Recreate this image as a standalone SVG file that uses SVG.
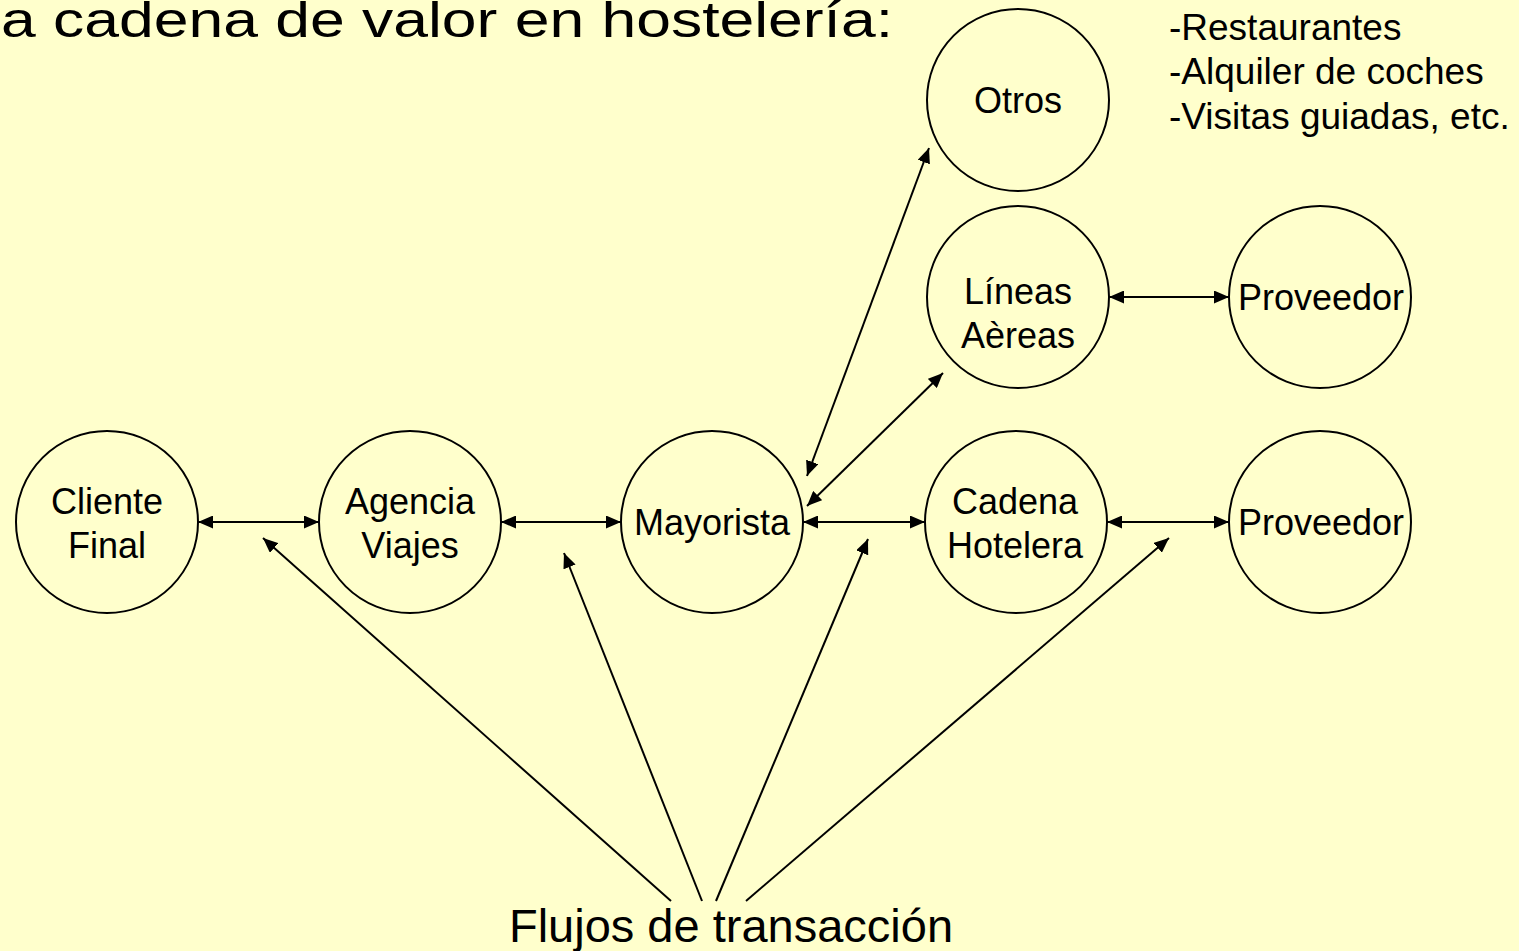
<svg xmlns="http://www.w3.org/2000/svg" width="1519" height="951" viewBox="0 0 1519 951">
<defs>
<style>
.n circle{fill:#FFFFCC;stroke:#000;stroke-width:2}
text{font-family:"Liberation Sans",Arial,sans-serif;fill:#000}
.n text{font-size:36px;text-anchor:middle}
.c line{stroke:#000;stroke-width:2}
.bi{marker-start:url(#ah);marker-end:url(#ah)}
.one{marker-end:url(#ah)}
</style>
<marker id="ah" markerUnits="userSpaceOnUse" markerWidth="16" markerHeight="13" refX="15" refY="6.5" orient="auto-start-reverse" viewBox="0 0 16 13">
<path d="M0,0 L15,6.5 L0,13 z" fill="#000"/>
</marker>
</defs>
<rect width="1519" height="951" fill="#FFFFCC"/>
<text x="1" y="37" font-size="50" textLength="892" lengthAdjust="spacingAndGlyphs">a cadena de valor en hostelería:</text>
<g id="lista" font-size="37">
<text x="1169" y="40">-Restaurantes</text>
<text x="1169" y="84">-Alquiler de coches</text>
<text x="1169" y="129">-Visitas guiadas, etc.</text>
</g>
<g class="c" id="connectors">
<line class="bi" x1="198" y1="522" x2="319" y2="522"/>
<line class="bi" x1="501" y1="522" x2="621" y2="522"/>
<line class="bi" x1="803" y1="522" x2="925" y2="522"/>
<line class="bi" x1="1107" y1="522" x2="1229" y2="522"/>
<line class="bi" x1="1109" y1="297" x2="1229" y2="297"/>
<line class="bi" x1="807" y1="476" x2="929" y2="148"/>
<line class="bi" x1="807" y1="506" x2="943" y2="373"/>
<line class="one" x1="671" y1="901" x2="263" y2="538"/>
<line class="one" x1="702" y1="901" x2="564" y2="553"/>
<line class="one" x1="716" y1="901" x2="868" y2="539"/>
<line class="one" x1="746" y1="901" x2="1169" y2="538"/>
</g>
<g class="n" id="cliente"><circle cx="107" cy="522" r="91"/><text x="107" y="514">Cliente</text><text x="107" y="558">Final</text></g>
<g class="n" id="agencia"><circle cx="410" cy="522" r="91"/><text x="410" y="514">Agencia</text><text x="410" y="558">Viajes</text></g>
<g class="n" id="mayorista"><circle cx="712" cy="522" r="91"/><text x="712" y="535">Mayorista</text></g>
<g class="n" id="cadena"><circle cx="1016" cy="522" r="91"/><text x="1015" y="514">Cadena</text><text x="1015" y="558">Hotelera</text></g>
<g class="n" id="proveedor2"><circle cx="1320" cy="522" r="91"/><text x="1321" y="535">Proveedor</text></g>
<g class="n" id="lineas"><circle cx="1018" cy="297" r="91"/><text x="1018" y="304">Líneas</text><text x="1018" y="348">Aèreas</text></g>
<g class="n" id="proveedor1"><circle cx="1320" cy="297" r="91"/><text x="1321" y="310">Proveedor</text></g>
<g class="n" id="otros"><circle cx="1018" cy="100" r="91"/><text x="1018" y="113">Otros</text></g>
<text x="731" y="942" font-size="47" text-anchor="middle">Flujos de transacción</text>
</svg>
